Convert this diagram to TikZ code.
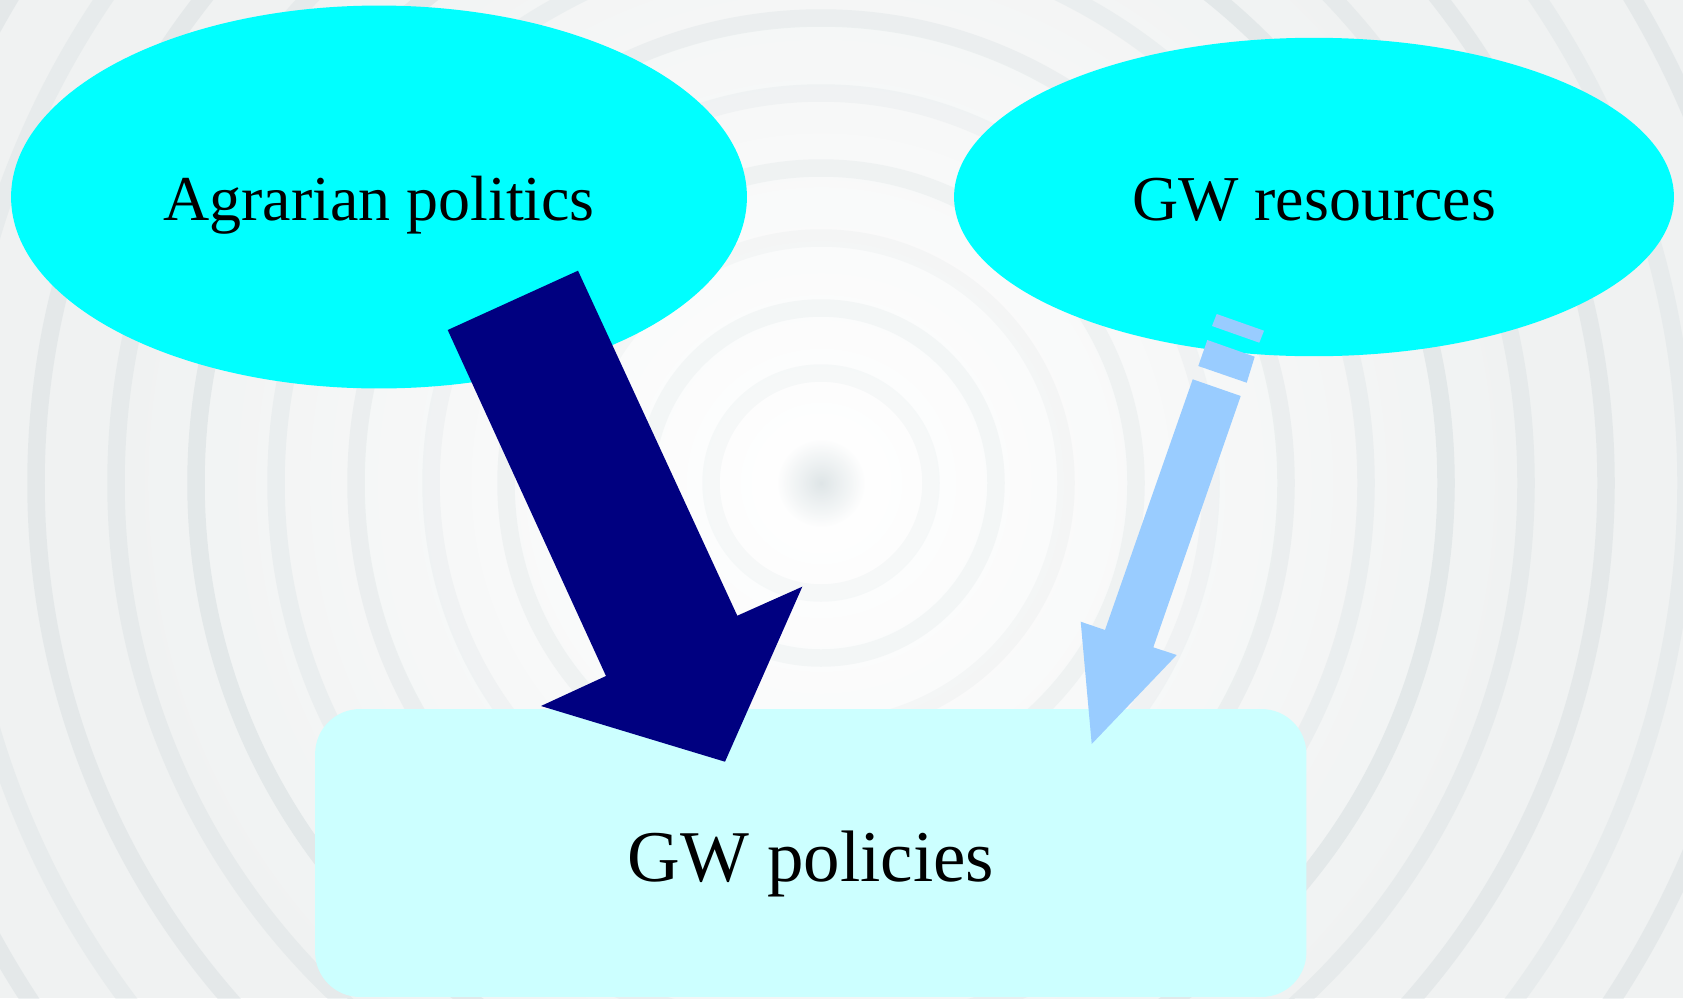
\documentclass[tikz,border=0pt]{standalone}
\usepackage{fontspec}
\setmainfont{Liberation Serif}
\usetikzlibrary{shapes.geometric,positioning}
\definecolor{ripplebg}{HTML}{F0F2F2}
\definecolor{rippleline}{HTML}{C9D4D7}
\definecolor{bubble}{HTML}{00FFFF}
\definecolor{policybox}{HTML}{CCFFFF}
\definecolor{darkarrow}{HTML}{000080}
\definecolor{lightarrow}{HTML}{99CCFF}
\tikzset{
  bubblenode/.style={ellipse, fill=bubble, inner sep=0pt,
    text height=27.3pt, text depth=0pt,
    font=\fontsize{36.4pt}{40pt}\selectfont},
  ringline/.style={draw=rippleline, line width=0.35cm}
}
\begin{document}
\begin{tikzpicture}[x=0.02cm, y=-0.02cm]
            \useasboundingbox (0,0) rectangle (1683,998);
            \clip (0,0) rectangle (1683,998);
            % water ripples behind
            \fill[ripplebg] (0,0) rectangle (1683,998);
            \shade[inner color=white, outer color=ripplebg] (821,483) circle[radius=700];
            \foreach \r/\op in {110/0.12,175/0.15,245/0.12,315/0.18,390/0.15,465/0.22,545/0.2,625/0.35,705/0.25,785/0.3,865/0.22,945/0.3,1025/0.2}
                \draw[ringline, opacity=\op] (821,483) circle[radius=\r];
            \shade[inner color=rippleline, outer color=white, opacity=0.6] (821,483) circle[radius=45];

            \node[bubblenode, minimum width=14.72cm, minimum height=7.66cm] (agrarian) at (379,197) {Agrarian politics};
            \node[bubblenode, minimum width=14.4cm, minimum height=6.37cm] (resources) at (1314,197) {GW resources};
            \node[rectangle, rounded corners=0.9cm, fill=policybox, inner sep=0pt,
                  minimum width=19.83cm, minimum height=5.76cm,
                  text height=31.9pt, text depth=0pt,
                  font=\fontsize{41.5pt}{45pt}\selectfont] (policies) at (810.75,853) {GW policies};

            % strong link
            \fill[darkarrow] (447.7,330) -- (578,270.7) -- (737.3,615.7) -- (802.3,586.7)
                -- (725,761.7) -- (541,706) -- (606,676) -- cycle;

            % weak link, broken tail
            \fill[lightarrow] (1216.7,314) -- (1264,330.7) -- (1259.3,342.7) -- (1212,326) -- cycle;
            \fill[lightarrow] (1207.3,340) -- (1254.7,356.7) -- (1246.7,382.7) -- (1198.3,366) -- cycle;
            \fill[lightarrow] (1192.7,379.3) -- (1240.7,396) -- (1153.3,647.3) -- (1176.7,655)
                -- (1091.7,744) -- (1080.7,621.7) -- (1105,630) -- cycle;
        \end{tikzpicture}
\end{document}
